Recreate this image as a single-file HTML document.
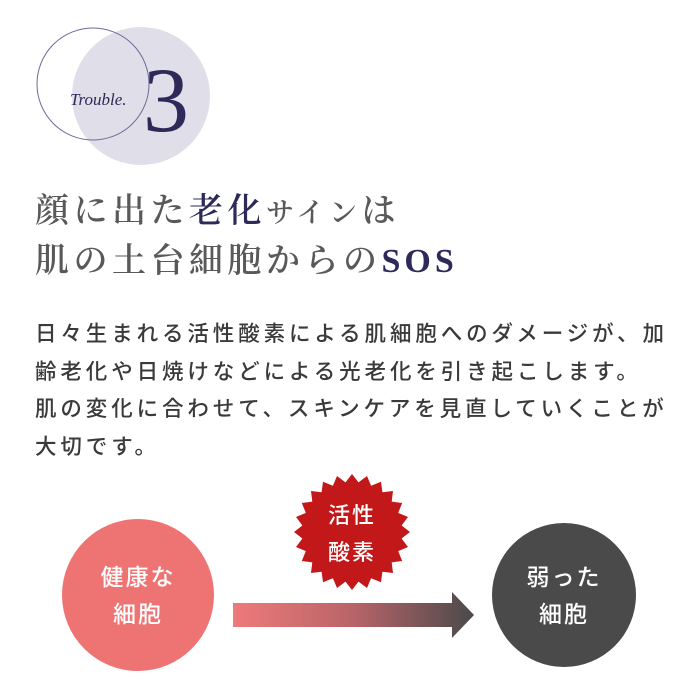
<!DOCTYPE html>
<html><head><meta charset="utf-8"><style>
body{margin:0;width:700px;height:700px;background:#fff;position:relative;overflow:hidden;font-family:"Liberation Sans","Noto Sans CJK JP",sans-serif}
.a{position:absolute;white-space:nowrap}
.h{font-family:"Liberation Serif","Noto Serif CJK SC",serif;font-size:34px;font-weight:600;letter-spacing:4.5px;color:#595959;line-height:1}
.b{font-size:21.5px;letter-spacing:3.9px;color:#3a3a3a;line-height:37.5px;left:35px;top:316px;font-weight:500}
.c{color:#fff;font-size:23px;letter-spacing:2px;text-align:center;line-height:37px;font-weight:500}
</style></head><body>
<svg class="a" style="left:0;top:0" width="700" height="700">
<circle cx="141" cy="96" r="69" fill="#e0dee8"/>
<circle cx="93" cy="84" r="56" fill="none" stroke="#6d6a9a" stroke-width="1"/>
<text x="70" y="105" font-family="Liberation Serif,serif" font-style="italic" font-size="17" fill="#2d2a5a">Trouble.</text>
<text x="143" y="131" font-family="Liberation Serif,serif" font-size="92" fill="#2d2a5a">3</text>
<circle cx="138" cy="595" r="76" fill="#ee7474"/>
<circle cx="564" cy="595" r="72" fill="#4a4a4a"/>
<defs><linearGradient id="g" x1="0" x2="1"><stop offset="0" stop-color="#ee7a7a"/><stop offset="0.5" stop-color="#b86468"/><stop offset="1" stop-color="#4a4a4a"/></linearGradient></defs>
<polygon points="233,603 452,603 452,592 474,615 452,638 452,627 233,627" fill="url(#g)"/>
<polygon id="s" fill="#c3181a" points=""/>
</svg>
<div class="a h" style="left:35px;top:195px">顔に出た<span style="color:#2d2a5a">老化</span><span style="font-size:28px">サイン</span>は</div>
<div class="a h" style="left:35px;top:245px">肌の土台細胞からの<span style="color:#2d2a5a;letter-spacing:4px">SOS</span></div>
<div class="a b">日々生まれる活性酸素による肌細胞へのダメージが、加<br>齢老化や日焼けなどによる光老化を引き起こします。<br>肌の変化に合わせて、スキンケアを見直していくことが<br>大切です。</div>
<div class="a c" style="left:62px;top:559px;width:152px">健康な<br>細胞</div>
<div class="a c" style="left:492px;top:559px;width:144px">弱った<br>細胞</div>
<div class="a c" style="left:302px;top:497px;width:100px;font-size:22px">活性<br>酸素</div>
<script>
var p=[],n=24,cx=352,cy=532;
for(var i=0;i<n*2;i++){var r=i%2?50:58,a=Math.PI*i/n;p.push((cx+r*Math.sin(a)).toFixed(1)+","+(cy-r*Math.cos(a)).toFixed(1));}
document.getElementById("s").setAttribute("points",p.join(" "));
</script>
</body></html>
